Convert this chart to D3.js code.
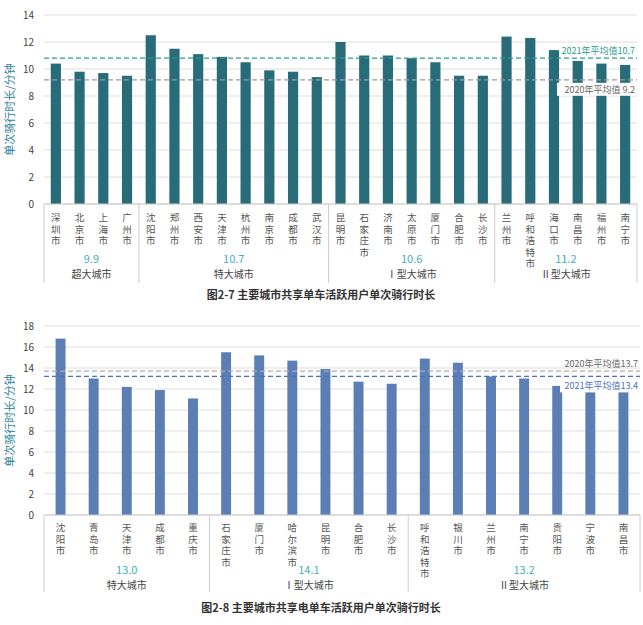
<!DOCTYPE html><html><head><meta charset="utf-8"><script src="https://cdn.jsdelivr.net/npm/d3@7"></script>
<style>body{margin:0;background:#fff}text{font-family:"Noto Sans CJK SC",sans-serif}</style></head><body><svg id="s" width="643" height="625"></svg>
<script>
const cities1=["深圳市","北京市","上海市","广州市","沈阳市","郑州市","西安市","天津市","杭州市","南京市","成都市","武汉市","昆明市","石家庄市","济南市","太原市","厦门市","合肥市","长沙市","兰州市","呼和浩特市","海口市","南昌市","福州市","南宁市"];
const values1=[10.4,9.8,9.7,9.5,12.5,11.5,11.1,10.9,10.5,9.9,9.8,9.4,12.0,11.0,11.0,10.8,10.5,9.5,9.5,12.4,12.3,11.4,10.6,10.4,10.3];
const groups1=[{name:"超大城市",avg:"9.9",n:4},{name:"特大城市",avg:"10.7",n:8},{name:"Ⅰ型大城市",avg:"10.6",n:7},{name:"Ⅱ型大城市",avg:"11.2",n:6}];
const ticks1=[0,2,4,6,8,10,12,14];
const cities2=["沈阳市","青岛市","天津市","成都市","重庆市","石家庄市","厦门市","哈尔滨市","昆明市","合肥市","长沙市","呼和浩特市","银川市","兰州市","南宁市","贵阳市","宁波市","南昌市"];
const values2=[16.8,13.0,12.2,11.9,11.1,15.5,15.2,14.7,13.9,12.7,12.5,14.9,14.5,13.2,13.0,12.3,12.0,12.0];
const groups2=[{name:"特大城市",avg:"13.0",n:5},{name:"Ⅰ型大城市",avg:"14.1",n:6},{name:"Ⅱ型大城市",avg:"13.2",n:7}];
const ticks2=[0,2,4,6,8,10,12,14,16,18];
const refs1=[{v:10.8,label:"2021年平均值10.7",c:"#2a9d8f",above:true},{v:9.2,label:"2020年平均值 9.2",c:"#999",above:false}];
const refs2=[{v:13.7,label:"2020年平均值13.7",c:"#aaa",above:true},{v:13.2,label:"2021年平均值13.4",c:"#4a72c4",above:false}];
const svg=d3.select("#s");
function chart(o){
 const g=svg.append("g");
 const x=d3.scaleBand().domain(o.cities).range([44,o.x1]).paddingInner(o.pad).paddingOuter(o.pad/2);
 const y=d3.scaleLinear().domain([0,o.max]).range([o.y0,o.ytop]);
 g.selectAll(".gl").data(o.ticks).join("line").attr("x1",44).attr("x2",o.x1).attr("y1",d=>y(d)).attr("y2",d=>y(d)).attr("stroke","#ddd");
 g.selectAll(".tk").data(o.ticks).join("text").attr("x",34).attr("y",d=>y(d)+4).attr("text-anchor","end").attr("font-size",10).attr("fill","#444").text(d=>d);
 g.selectAll(".b").data(o.values).join("rect").attr("x",(d,i)=>x(o.cities[i])).attr("width",x.bandwidth()).attr("y",d=>y(d)).attr("height",d=>y(0)-y(d)).attr("fill",o.color);
 o.refs.forEach(r=>{
  g.append("line").attr("x1",44).attr("x2",o.x1).attr("y1",y(r.v)).attr("y2",y(r.v)).attr("stroke",r.c).attr("stroke-width",1.3).attr("stroke-dasharray","5,3");
  const ty=r.above?y(r.v)-4:y(r.v)+13;
  if(!r.above) g.append("rect").attr("x",o.x1-80).attr("y",ty-10).attr("width",80).attr("height",13).attr("fill","#fff");
  g.append("text").attr("x",o.x1-2).attr("y",ty).attr("text-anchor","end").attr("font-size",9).attr("fill",r.c==="#999"||r.c==="#aaa"?"#666":r.c).text(r.label);
 });
 g.append("text").attr("transform",`translate(14,${(o.y0+o.ytop)/2}) rotate(-90)`).attr("text-anchor","middle").attr("font-size",11).attr("fill","#2a7fa0").text("单次骑行时长/分钟");
 g.append("line").attr("x1",44).attr("x2",o.x1).attr("y1",o.y0).attr("y2",o.y0).attr("stroke","#ccc");
 o.cities.forEach(c=>{
  const cx=x(c)+x.bandwidth()/2;
  [...c].forEach((ch,k)=>g.append("text").attr("x",cx).attr("y",o.ly+k*11.5).attr("text-anchor","middle").attr("font-size",9.5).attr("fill","#555").text(ch));
 });
 let idx=0;const step=x.step();
 const bounds=[44];
 o.groups.forEach(gr=>{
  idx+=gr.n; bounds.push(idx<o.cities.length?x(o.cities[idx])-step*o.pad/2:o.x1);
 });
 bounds.forEach(b=>g.append("line").attr("x1",b).attr("x2",b).attr("y1",o.y0).attr("y2",o.yb).attr("stroke","#ccc"));
 o.groups.forEach((gr,i)=>{
  const cx=(bounds[i]+bounds[i+1])/2;
  g.append("text").attr("x",cx).attr("y",o.ay).attr("text-anchor","middle").attr("font-size",11).attr("fill","#3fb0c0").text(gr.avg);
  g.append("text").attr("x",cx).attr("y",o.ay+15).attr("text-anchor","middle").attr("font-size",10).attr("fill","#444").text(gr.name);
 });
 g.append("text").attr("x",321).attr("y",o.ty).attr("text-anchor","middle").attr("font-size",11).attr("font-weight","bold").attr("fill","#333").text(o.title);
}
chart({cities:cities1,values:values1,groups:groups1,ticks:ticks1,refs:refs1,max:14,y0:204,ytop:15,x1:637,pad:0.57,color:"#286c7a",ly:221,ay:263,yb:283,ty:299,title:"图2-7 主要城市共享单车活跃用户单次骑行时长"});
chart({cities:cities2,values:values2,groups:groups2,ticks:ticks2,refs:refs2,max:18,y0:515,ytop:326,x1:640,pad:0.7,color:"#5b7fb5",ly:531,ay:574,yb:592,ty:612,title:"图2-8 主要城市共享电单车活跃用户单次骑行时长"});
</script></body></html>
